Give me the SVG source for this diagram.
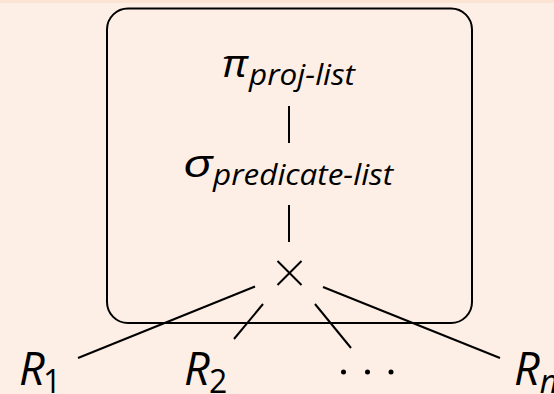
<svg xmlns="http://www.w3.org/2000/svg" width="554" height="394" viewBox="0 0 554 394">
<style>
.t{font-family:"Open Sans","Noto Sans","DejaVu Sans",sans-serif;font-style:italic;fill:#000}
.s{font-family:"Open Sans","Noto Sans","DejaVu Sans",sans-serif;fill:#000}
.ln{stroke:#000;stroke-width:2;fill:none;stroke-linecap:butt}
</style>
<rect x="0" y="0" width="554" height="394" fill="#FDEFE5"/>
<rect x="0" y="0" width="554" height="3" fill="#FCE4D3"/>
<g id="box">
<rect x="107" y="8.5" width="365" height="314.5" rx="21" ry="21" class="ln"/>
</g>
<g id="connectors">
<line x1="289" y1="106" x2="289" y2="143" class="ln"/>
<line x1="289" y1="205" x2="289" y2="242" class="ln"/>
<line x1="255" y1="286.5" x2="78" y2="358" class="ln"/>
<line x1="263" y1="304" x2="234" y2="339" class="ln"/>
<line x1="315" y1="304" x2="351" y2="348" class="ln"/>
<line x1="323" y1="287" x2="500" y2="358" class="ln"/>
</g>
<g id="proj">
<text class="t" x="222" y="77" font-size="38" textLength="26" lengthAdjust="spacingAndGlyphs">π</text>
<text class="t" x="249" y="85" font-size="29" textLength="106" lengthAdjust="spacingAndGlyphs">proj-list</text>
</g>
<g id="select">
<text class="t" x="183" y="177" font-size="38" textLength="30" lengthAdjust="spacingAndGlyphs">σ</text>
<text class="t" x="213" y="185" font-size="29" textLength="180" lengthAdjust="spacingAndGlyphs">predicate-list</text>
</g>
<g id="cross">
<line x1="277.5" y1="261" x2="301.5" y2="285" class="ln"/>
<line x1="301.5" y1="261" x2="277.5" y2="285" class="ln"/>
</g>
<g id="R1">
<text class="t" x="19" y="385" font-size="45">R</text>
<text class="s" x="43" y="393" font-size="32">1</text>
</g>
<g id="R2">
<text class="t" x="184" y="385" font-size="45">R</text>
<text class="s" x="209" y="393" font-size="32">2</text>
</g>
<g id="dots">
<circle cx="343.5" cy="372" r="2.5"/>
<circle cx="367.5" cy="372" r="2.5"/>
<circle cx="391" cy="372" r="2.5"/>
</g>
<g id="Rn">
<text class="t" x="514" y="385" font-size="45">R<tspan font-size="32" dy="8">n</tspan></text>
</g>
</svg>
